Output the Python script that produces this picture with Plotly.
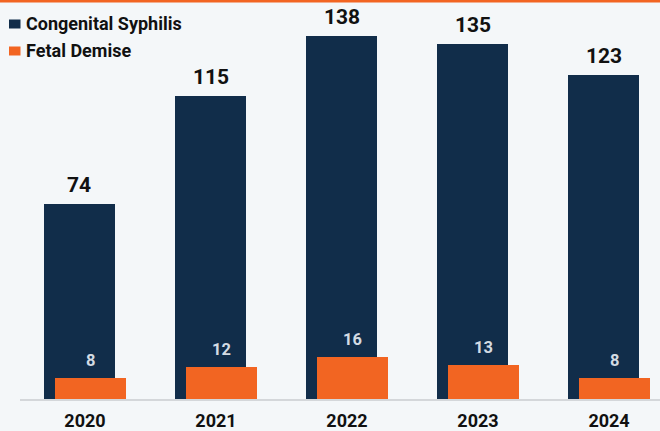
import plotly.graph_objects as go

years = ["2020", "2021", "2022", "2023", "2024"]
series_names = ["Congenital Syphilis", "Fetal Demise"]
congenital_syphilis = [74, 115, 138, 135, 123]
fetal_demise = [8, 12, 16, 13, 8]

NAVY = "#112d4a"
ORANGE = "#f26522"
BG = "#f4f7f9"
FONT = "Roboto"

fig = go.Figure()
fig.add_trace(go.Bar(
    x=years, y=congenital_syphilis, name=series_names[0],
    marker=dict(color=NAVY, line=dict(width=0)),
    width=0.542, offset=-0.313, showlegend=False, hoverinfo="skip",
))
fig.add_trace(go.Bar(
    x=years, y=fetal_demise, name=series_names[1],
    marker=dict(color=ORANGE, line=dict(width=0)),
    width=0.542, offset=-0.229, showlegend=False, hoverinfo="skip",
))

annotations = []
for i, v in enumerate(congenital_syphilis):
    annotations.append(dict(
        x=i, y=v, xref="x", yref="y", text=f"<b>{v}</b>",
        showarrow=False, xshift=-5.5, yshift=19, yanchor="middle",
        font=dict(family=FONT, size=21, color="#111111"),
    ))
for i, v in enumerate(fetal_demise):
    annotations.append(dict(
        x=i, y=v, xref="x", yref="y", text=f"<b>{v}</b>",
        showarrow=False, xshift=5.5, yshift=17.5, yanchor="middle",
        font=dict(family=FONT, size=16.5, color="#d3dbe3"),
    ))

# custom legend
W, H = 660, 431
ml, mr, mt, mb = 20, 0, 3, 32
pw, ph = W - ml - mr, H - mt - mb


def px_x(x):
    return (x - ml) / pw


def px_y(y):
    return (H - mb - y) / ph


shapes = [
    dict(type="rect", xref="paper", yref="paper",
         x0=px_x(0), x1=px_x(W), y0=px_y(2.5), y1=px_y(0),
         fillcolor=ORANGE, line=dict(width=0), layer="above"),
]
legend_colors = [NAVY, ORANGE]
legend_centers = [24, 51]
for name, col, cy in zip(series_names, legend_colors, legend_centers):
    shapes.append(dict(type="rect", xref="paper", yref="paper",
                       x0=px_x(9), x1=px_x(20.5), y0=px_y(cy + 4.5), y1=px_y(cy - 4.5),
                       fillcolor=col, line=dict(width=0)))
    annotations.append(dict(
        x=px_x(24), y=px_y(cy - 0.5), xref="paper", yref="paper",
        text=f"<b>{name}</b>", showarrow=False, xanchor="left", yanchor="middle",
        font=dict(family=FONT, size=18, color="#111111"),
    ))

fig.update_layout(
    width=W, height=H,
    margin=dict(l=ml, r=mr, t=mt, b=mb, autoexpand=False),
    paper_bgcolor=BG, plot_bgcolor=BG,
    barmode="overlay",
    bargap=0,
    xaxis=dict(
        type="category", range=[-0.496, 4.389], automargin=False,
        showgrid=False, zeroline=False,
        showline=True, linecolor="#d4d7da", linewidth=2,
        ticks="", ticklabelstandoff=4,
        tickfont=dict(family=FONT, size=18, color="#111111", weight="bold"),
    ),
    yaxis=dict(
        range=[0, 150.5], visible=False, showgrid=False, zeroline=False,
    ),
    shapes=shapes,
    annotations=annotations,
    font=dict(family=FONT),
    hovermode=False,
)

fig.write_html(
    "out.html",
    config={"displayModeBar": False, "staticPlot": True},
    post_script="document.body.style.margin='0';document.body.style.overflow='hidden';",
)
